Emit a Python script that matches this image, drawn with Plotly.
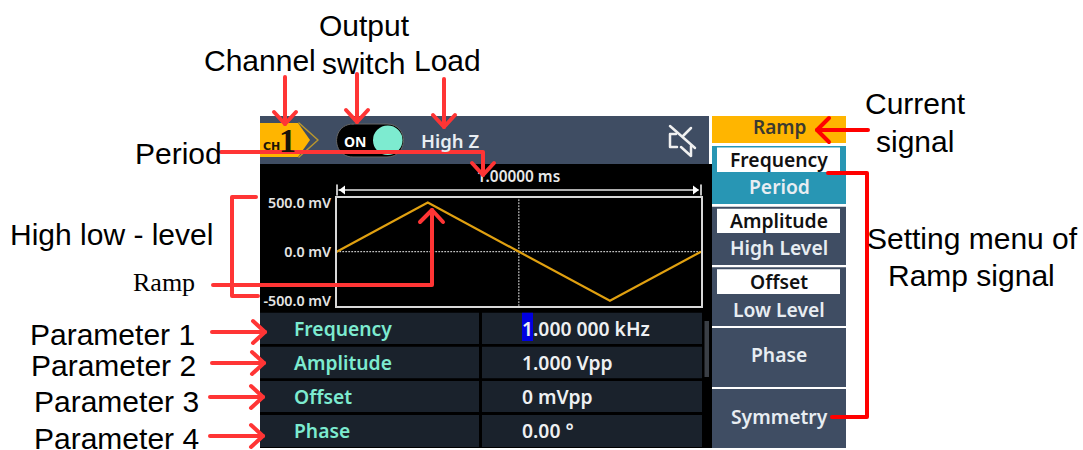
import plotly.graph_objects as go

W, H = 1083, 450

# ---- data ----
time_ms = [0, 0.25, 0.75, 1]
level_mv = [0, 500, -500, 0]
level_ticks = [500, 0, -500]
level_labels = ["500.0 mV", "0.0 mV", "-500.0 mV"]
param_names = ["Frequency", "Amplitude", "Offset", "Phase"]
param_values = ["1.000 000 kHz", "1.000 Vpp", "0 mVpp", "0.00 °"]
param_callouts = ["Parameter 1", "Parameter 2", "Parameter 3", "Parameter 4"]
period_text = ["1.00000 ms"]
menu_boxed = ["Frequency", "Amplitude", "Offset"]
menu_plain = ["Period", "High Level", "Low Level", "Phase", "Symmetry"]

PANEL = "#3f4d63"; TEAL = "#7debd0"; ROW = "#1a222c"; RED = "#ff3535"; PURE = "#ff0000"
GUI = "Noto Sans"; LAB = "Liberation Sans"

shapes, ann = [], []

def rect(x0, y0, x1, y1, fill, layer="below"):
    shapes.append(dict(type="rect", xref="x", yref="y", x0=x0, y0=y0, x1=x1, y1=y1,
                       fillcolor=fill, line=dict(width=0), layer=layer))

def path(pts, color=RED, width=4, fill=None, closed=False, layer="above"):
    d = "M " + " L ".join(f"{x},{y}" for x, y in pts) + (" Z" if closed else "")
    shapes.append(dict(type="path", xref="x", yref="y", path=d, layer=layer,
                       line=dict(color=color, width=width),
                       fillcolor=fill if fill else "rgba(0,0,0,0)"))

def text(x, y, s, size, color="#000", font=LAB, anchor="center", weight=None):
    f = dict(family=font, size=size, color=color)
    if weight:
        f["weight"] = weight
    ann.append(dict(xref="x", yref="y", x=x, y=y, text=s, showarrow=False, xanchor=anchor,
                    yanchor="middle", font=f, borderpad=0, borderwidth=0))

def down_arrow(x, y0, y1, head=12, half=11):
    path([(x, y0), (x, y1)])
    path([(x - half, y1 - head), (x, y1), (x + half, y1 - head)])

def right_arrow(x0, x1, y):
    path([(x0, y), (x1, y)])
    path([(x1 - 12, y - 11), (x1, y), (x1 - 12, y + 11)])

# ---- instrument screen panels ----
rect(260, 116, 709, 164, PANEL)
rect(260, 164, 712, 448, "#000000")
row_tops = [312.7, 346.7, 381, 415]
row_bots = [344, 378.3, 412, 447]
for t, b in zip(row_tops, row_bots):
    rect(260, t, 479, b, ROW)
    rect(482, t, 702, b, ROW)
rect(704.5, 321, 709, 377, "#3a3f46")
rect(522, 312.7, 533, 341, "#0000e0")

# menu
rect(712, 116, 846, 143, "#ffb500")
rect(712, 146, 846, 204, "#2896b4")
rect(712, 206.7, 846, 265, PANEL)
rect(712, 267.3, 846, 326, PANEL)
rect(712, 328, 846, 387, PANEL)
rect(712, 389, 846, 448, PANEL)
for t, b in [(147.5, 172), (208.7, 233), (269.3, 294)]:
    rect(717, t, 840, b, "#ffffff")
text(779, 127, "Ramp", 19, "#3b3a30", GUI, weight=600)
for y, s in zip([159.5, 220.5, 281.5], menu_boxed):
    text(779, y, s, 19.3, "#111", GUI, weight=600)
for y, s in zip([186, 247.5, 309, 354.5, 416], menu_plain):
    text(779, y, s, 19.3, "#e8edf2", GUI, weight=600)

# channel badge, switch, load, mute icon
path([(260, 123), (298, 123), (310, 140), (298, 157), (260, 157)], color="#ffb500", width=0, fill="#ffb500", closed=True, layer="below")
path([(299, 123), (318, 140), (299, 157)], color="#b8962e", width=1.5, layer="below")
text(271, 146, "CH", 11, "#1a1408", "DejaVu Sans", weight=700)
text(287, 140, "1", 34, "#1a1408", "Liberation Sans Narrow", weight=700)
shapes.append(dict(type="path", xref="x", yref="y", layer="below", fillcolor="#000",
                   line=dict(color="#666", width=1),
                   path="M 353,124 L 387,124 C 409,124 409,157 387,157 L 353,157 C 331,157 331,124 353,124 Z"))
shapes.append(dict(type="circle", xref="x", yref="y", layer="below", x0=373, x1=402.5, y0=125.5, y1=155,
                   fillcolor=TEAL, line=dict(width=0)))
text(355, 141, "ON", 14, "#fff", GUI, weight=700)
text(449.5, 140.5, "High Z", 18.5, "#e8edf2", GUI, weight=600)
for pts in ([(670, 126), (695, 148)], [(676, 134), (670, 134), (670, 147), (677, 147)],
            [(691, 128), (683, 136)], [(681, 147), (691, 156), (691, 146)]):
    path(pts, color="#f0f0f0", width=2.5, layer="below")

# period dimension line
path([(339, 190), (698, 190)], color="#e8e8e8", width=1.5, layer="below")
path([(337, 185), (337, 195)], color="#fff", width=1.5, layer="below")
path([(701, 185), (701, 195)], color="#fff", width=1.5, layer="below")
path([(339, 190), (345, 185.5), (345, 194.5)], color="#fff", width=0, fill="#fff", closed=True, layer="below")
path([(699, 190), (693, 185.5), (693, 194.5)], color="#fff", width=0, fill="#fff", closed=True, layer="below")

# parameter table text
for y, n, v in zip([328.5, 362.5, 396.5, 430.5], param_names, param_values):
    text(294, y, n, 19.3, TEAL, GUI, "left", 600)
    text(521.5, y, v, 19.3, "#eef0f2", GUI, "left", 600)

# ---- callout labels ----
text(260, 60, "Channel", 30)
text(364, 25, "Output", 30)
text(363, 63, "switch", 30)
text(447.5, 60, "Load", 30)
text(178, 153, "Period", 30)
text(111.5, 234, "High low - level", 30)
text(164, 282, "Ramp", 26, font="Liberation Serif")
for y, x, s in zip([334, 365, 401, 438.5], [112.5, 113.5, 116.5, 116.5], param_callouts):
    text(x, y, s, 30)
text(915.5, 103, "Current", 30)
text(915, 141, "signal", 30)
text(972, 238, "Setting menu of", 30)
text(971.5, 275, "Ramp signal", 30)

# ---- red arrows ----
down_arrow(285, 77, 124)
down_arrow(357, 74, 122)
down_arrow(444, 79, 127)
path([(221, 152), (483, 152), (483, 175)])
path([(472, 163), (483, 175), (494, 163)])
path([(256, 197), (232, 197), (232, 296), (258, 296)])
path([(213, 285), (432, 285), (432, 210)])
path([(420, 222), (432, 210), (443, 222)])
right_arrow(212, 265, 332)
right_arrow(212, 264, 363)
right_arrow(210, 263, 397)
right_arrow(210, 263, 436)
path([(868, 130), (817, 130)], color=PURE)
path([(829, 118), (817, 130), (829, 142)], color=PURE)
path([(828, 173), (867, 173), (867, 417), (832, 417)], color=PURE)

# ---- plot ----
fig = go.Figure()
fig.add_trace(go.Scatter(x=[518.5], y=[178], mode="text", text=period_text, xaxis="x", yaxis="y",
                         textfont=dict(family=GUI, size=15.4, color="#e8e8e8", weight=600),
                         textposition="middle center", hoverinfo="skip", showlegend=False))
fig.add_trace(go.Scatter(x=time_ms, y=level_mv, mode="lines", xaxis="x2", yaxis="y2",
                         line=dict(color="#e0a010", width=2.2), hoverinfo="skip", showlegend=False))

for x0, x1, y0, y1 in [(0.5, 0.5, -550, 550), (0, 1, 0, 0)]:
    shapes.append(dict(type="line", xref="x2", yref="y2", x0=x0, x1=x1, y0=y0, y1=y1, layer="below",
                       line=dict(color="#eeeeee", width=1, dash="1px,2px")))

fig.update_layout(
    width=W, height=H, margin=dict(l=0, r=0, t=0, b=0, pad=0), autosize=False,
    paper_bgcolor="#ffffff", plot_bgcolor="rgba(0,0,0,0)", showlegend=False,
    xaxis=dict(domain=[0, 1], range=[0, W], visible=False, fixedrange=True, automargin=False),
    yaxis=dict(domain=[0, 1], range=[H, 0], visible=False, fixedrange=True, automargin=False),
    xaxis2=dict(domain=[336.7 / W, 701 / W], range=[0, 1], anchor="y2", showgrid=False, zeroline=False,
                showticklabels=False, ticks="", showline=True, mirror=True, linecolor="#d8d8d8", linewidth=1.5,
                automargin=False),
    yaxis2=dict(domain=[1 - 305.7 / H, 1 - 197.7 / H], range=[-550, 550], anchor="x2", showgrid=False,
                zeroline=False, tickmode="array", tickvals=level_ticks, ticktext=level_labels, ticks="",
                tickfont=dict(family=GUI, size=14.3, color="#e4e4e4", weight=600), ticklabelstandoff=1,
                showline=True, mirror=True, linecolor="#d8d8d8", linewidth=1.5, automargin=False),
    shapes=shapes, annotations=ann,
)

post = """
document.body.style.margin='0';
document.querySelectorAll('.shapelayer path').forEach(function(p){
  p.style.strokeLinecap='round'; p.style.strokeLinejoin='round';
});
"""
fig.write_html("out.html", post_script=post, config=dict(displayModeBar=False))
